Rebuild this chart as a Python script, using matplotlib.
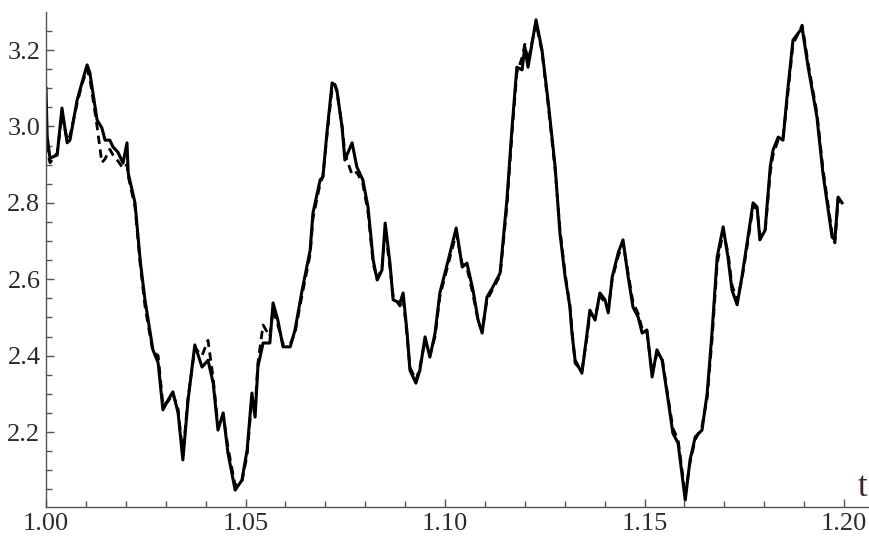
import matplotlib.pyplot as plt
import numpy as np
from matplotlib.ticker import MultipleLocator, FormatStrFormatter

# time grid
t = [1.0000, 1.0003, 1.0010, 1.0028, 1.0040, 1.0053, 1.0060, 1.0078, 1.0090, 1.0103,
     1.0110, 1.0128, 1.0140, 1.0148, 1.0160, 1.0168, 1.0180, 1.0193, 1.0203, 1.0206,
     1.0223, 1.0236, 1.0248, 1.0256, 1.0268, 1.0281, 1.0293, 1.0306, 1.0318, 1.0331,
     1.0343, 1.0356, 1.0373, 1.0391, 1.0406, 1.0419, 1.0431, 1.0444, 1.0456, 1.0474,
     1.0491, 1.0504, 1.0516, 1.0524, 1.0531, 1.0544, 1.0561, 1.0569, 1.0581, 1.0594,
     1.0612, 1.0624, 1.0642, 1.0662, 1.0669, 1.0687, 1.0694, 1.0704, 1.0717, 1.0724,
     1.0729, 1.0742, 1.0749, 1.0767, 1.0779, 1.0794, 1.0807, 1.0820, 1.0830, 1.0842,
     1.0850, 1.0862, 1.0870, 1.0887, 1.0895, 1.0905, 1.0912, 1.0927, 1.0937, 1.0950,
     1.0962, 1.0975, 1.0987, 1.1008, 1.1028, 1.1043, 1.1055, 1.1070, 1.1083, 1.1093,
     1.1105, 1.1120, 1.1138, 1.1155, 1.1168, 1.1180, 1.1193, 1.1200, 1.1208, 1.1228,
     1.1243, 1.1258, 1.1276, 1.1288, 1.1301, 1.1313, 1.1318, 1.1326, 1.1343, 1.1356,
     1.1363, 1.1376, 1.1388, 1.1401, 1.1409, 1.1419, 1.1434, 1.1446, 1.1459, 1.1471,
     1.1484, 1.1494, 1.1506, 1.1519, 1.1531, 1.1544, 1.1559, 1.1571, 1.1584, 1.1602,
     1.1614, 1.1627, 1.1644, 1.1657, 1.1669, 1.1682, 1.1697, 1.1709, 1.1719, 1.1732,
     1.1744, 1.1757, 1.1772, 1.1782, 1.1789, 1.1802, 1.1815, 1.1822, 1.1835, 1.1847,
     1.1857, 1.1872, 1.1895, 1.1910, 1.1932, 1.1947, 1.1970, 1.1977, 1.1985, 1.1995]

# solid curve
solid = [3.100, 2.972, 2.917, 2.925, 3.048, 2.957, 2.964, 3.069, 3.114, 3.161,
         3.140, 3.017, 2.996, 2.964, 2.964, 2.946, 2.933, 2.904, 2.957, 2.878,
         2.800, 2.650, 2.546, 2.493, 2.415, 2.381, 2.258, 2.284, 2.305, 2.250,
         2.127, 2.284, 2.428, 2.370, 2.388, 2.328, 2.205, 2.250, 2.145, 2.048,
         2.074, 2.153, 2.302, 2.239, 2.370, 2.433, 2.433, 2.538, 2.493, 2.423,
         2.423, 2.467, 2.572, 2.676, 2.773, 2.860, 2.868, 2.983, 3.114, 3.108,
         3.095, 2.998, 2.912, 2.957, 2.894, 2.860, 2.789, 2.650, 2.598, 2.624,
         2.747, 2.642, 2.546, 2.538, 2.564, 2.459, 2.362, 2.328, 2.362, 2.449,
         2.396, 2.459, 2.564, 2.650, 2.734, 2.632, 2.642, 2.572, 2.493, 2.459,
         2.553, 2.580, 2.616, 2.807, 2.998, 3.155, 3.148, 3.208, 3.155, 3.279,
         3.200, 3.069, 2.894, 2.721, 2.606, 2.527, 2.459, 2.388, 2.354, 2.459,
         2.519, 2.493, 2.564, 2.546, 2.512, 2.606, 2.669, 2.703, 2.606, 2.527,
         2.501, 2.459, 2.467, 2.344, 2.415, 2.388, 2.284, 2.197, 2.171, 2.022,
         2.127, 2.187, 2.205, 2.302, 2.459, 2.658, 2.737, 2.658, 2.572, 2.533,
         2.606, 2.695, 2.800, 2.789, 2.703, 2.728, 2.894, 2.938, 2.972, 2.964,
         3.077, 3.226, 3.258, 3.155, 3.025, 2.878, 2.710, 2.703, 2.815, 2.800]

# dashed curve
dashed = [2.990, 2.940, 2.905, 2.930, 3.030, 2.965, 2.975, 3.060, 3.110, 3.150,
          3.125, 3.000, 2.905, 2.915, 2.940, 2.925, 2.910, 2.890, 2.900, 2.870,
          2.790, 2.640, 2.530, 2.480, 2.410, 2.400, 2.270, 2.280, 2.300, 2.260,
          2.140, 2.290, 2.420, 2.400, 2.440, 2.340, 2.215, 2.245, 2.160, 2.060,
          2.070, 2.140, 2.290, 2.260, 2.380, 2.480, 2.450, 2.520, 2.480, 2.430,
          2.430, 2.460, 2.560, 2.665, 2.760, 2.850, 2.870, 2.975, 3.100, 3.110,
          3.090, 3.000, 2.930, 2.873, 2.880, 2.850, 2.775, 2.640, 2.600, 2.630,
          2.730, 2.630, 2.555, 2.530, 2.550, 2.450, 2.370, 2.335, 2.370, 2.440,
          2.400, 2.450, 2.555, 2.640, 2.720, 2.640, 2.630, 2.560, 2.490, 2.465,
          2.545, 2.575, 2.610, 2.790, 2.985, 3.140, 3.180, 3.215, 3.170, 3.270,
          3.195, 3.060, 2.885, 2.730, 2.615, 2.530, 2.470, 2.380, 2.360, 2.450,
          2.510, 2.500, 2.555, 2.540, 2.520, 2.600, 2.660, 2.695, 2.615, 2.540,
          2.510, 2.470, 2.460, 2.355, 2.405, 2.395, 2.290, 2.210, 2.180, 2.035,
          2.120, 2.180, 2.215, 2.290, 2.440, 2.640, 2.725, 2.670, 2.585, 2.545,
          2.600, 2.685, 2.790, 2.785, 2.715, 2.720, 2.880, 2.925, 2.965, 2.970,
          3.065, 3.215, 3.265, 3.165, 3.035, 2.890, 2.720, 2.695, 2.810, 2.795]

plt.rcParams['font.family'] = ['Liberation Serif', 'DejaVu Serif']

fig = plt.figure(figsize=(8.7, 5.39), dpi=100)
ax = fig.add_axes([46 / 870, 32 / 539, 824 / 870, 495 / 539])

ax.plot(t, dashed, color='black', lw=2.0, ls=(0, (3, 2)))
ax.plot(t, solid, color='black', lw=2.2)

ax.set_xlim(1.0, 1.2065)
ax.set_ylim(2.0037, 3.2995)

for s in ['top', 'right']:
    ax.spines[s].set_visible(False)
for s in ['left', 'bottom']:
    ax.spines[s].set_color('#555555')
    ax.spines[s].set_linewidth(1.0)

ax.xaxis.set_major_locator(MultipleLocator(0.05))
ax.xaxis.set_minor_locator(MultipleLocator(0.01))
ax.yaxis.set_major_locator(MultipleLocator(0.2))
ax.yaxis.set_minor_locator(MultipleLocator(0.05))
ax.xaxis.set_major_formatter(FormatStrFormatter('%.2f'))
ax.yaxis.set_major_formatter(FormatStrFormatter('%.1f'))

ax.tick_params(which='both', direction='in', color='#555555', width=1.0)
ax.tick_params(which='major', length=6, labelsize=19, labelcolor='#2b2b2b')
ax.tick_params(which='minor', length=4)
ax.tick_params(axis='x', which='major', pad=4)
ax.tick_params(axis='y', which='major', pad=4)

ax.text(1.2045, 2.056, 't', fontsize=25, color='#3a2b2b', ha='center', va='center')

fig.savefig('out.png', dpi=100)
